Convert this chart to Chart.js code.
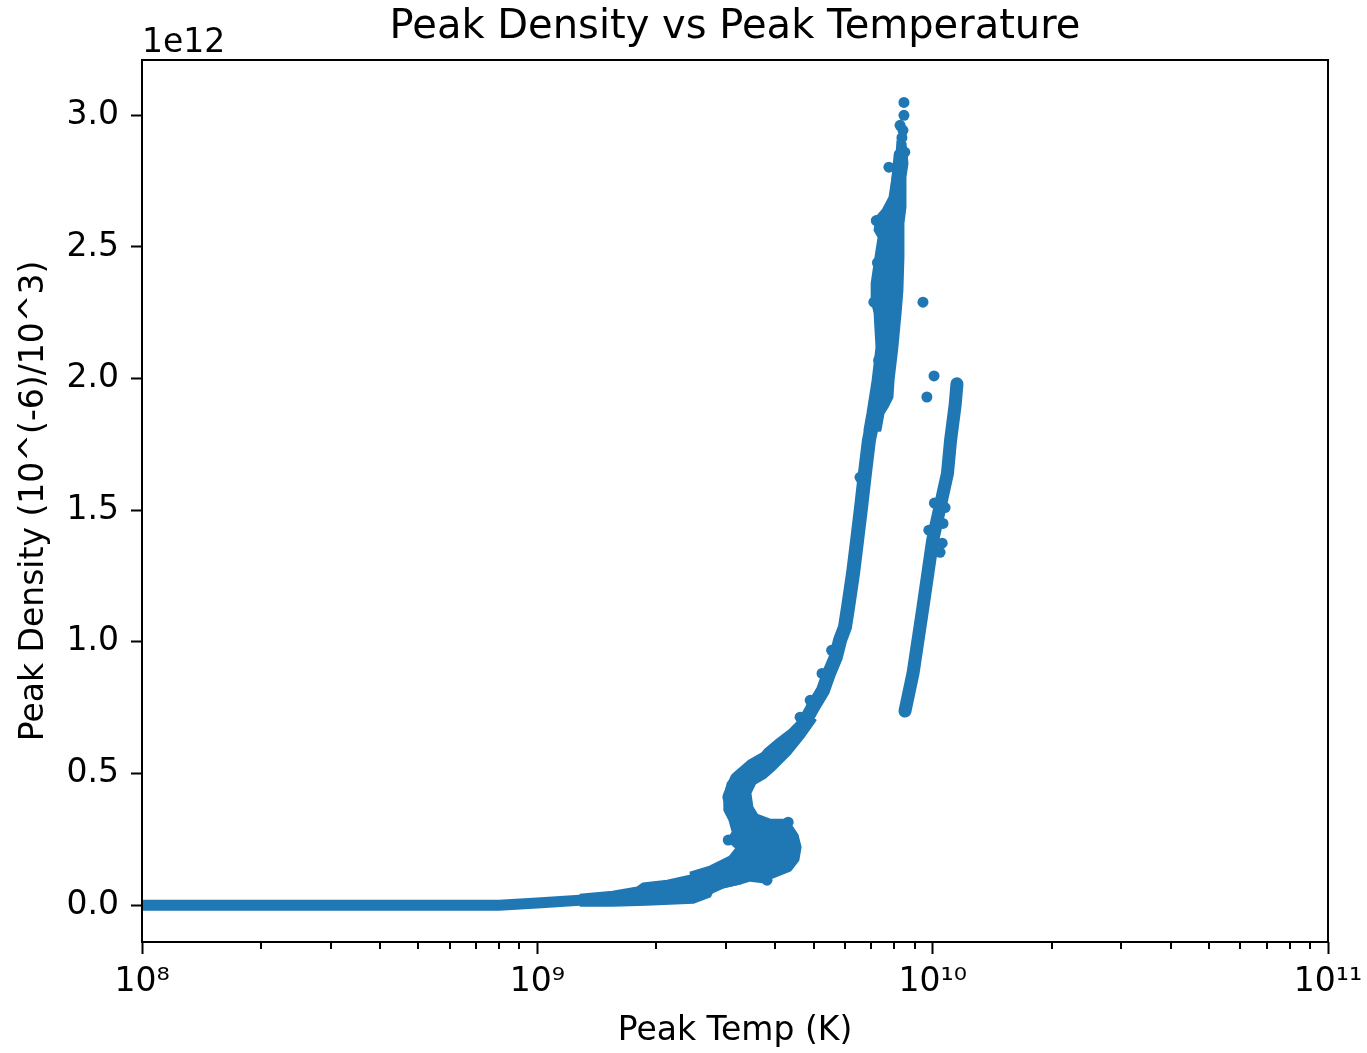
<!DOCTYPE html>
<html>
<head>
<meta charset="utf-8">
<title>Peak Density vs Peak Temperature</title>
<script src="https://cdn.jsdelivr.net/npm/chart.js@4/dist/chart.umd.min.js"></script>
<style>
  html, body { margin: 0; padding: 0; background: #fff; }
  canvas { display: block; }
</style>
</head>
<body>
<canvas id="peak-chart" width="1367" height="1053"></canvas>
<script>
// peak temperature (K) and peak density (units of 1e12)

// main track, in order along the curve
const mainTemp = [1.0e8, 2.0e8, 4.0e8, 6.0e8, 8.0e8, 1.0e9, 1.28e9, 1.55e9, 1.85e9, 2.13e9,
	2.43e9, 2.73e9, 3.0e9, 3.5e9, 4.0e9, 3.6e9, 3.2e9, 3.06e9, 3.2e9, 3.5e9,
	3.9e9, 4.2e9, 4.43e9, 4.73e9, 4.98e9, 5.28e9, 5.47e9, 5.69e9, 5.83e9, 6.0e9,
	6.11e9, 6.29e9, 6.44e9, 6.59e9, 6.74e9, 6.9e9, 7.2e9, 7.7e9, 8.0e9, 8.3e9];
const mainDens = [0.0, 0.0, 0.0, 0.0, 0.0, 0.008, 0.019, 0.025, 0.04, 0.05,
	0.065, 0.09, 0.13, 0.19, 0.22, 0.27, 0.33, 0.41, 0.48, 0.53,
	0.57, 0.6, 0.627, 0.691, 0.752, 0.816, 0.881, 0.942, 1.006, 1.056,
	1.132, 1.261, 1.386, 1.511, 1.64, 1.766, 1.9, 2.2, 2.6, 2.85];

// outlines of the densely packed parts of the main track
const lowerTemp = [1.28e9, 1.55e9, 1.79e9, 1.85e9, 2.13e9, 2.43e9, 2.78e9, 3.07e9,
	3.26e9, 2.78e9, 2.73e9, 2.48e9, 1.89e9, 1.55e9, 1.28e9];
const lowerDens = [0.038, 0.049, 0.065, 0.08, 0.091, 0.11, 0.137, 0.171,
	0.0835, 0.061, 0.034, 0.011, 0.0038, 0.0, 0.0];

const blobTemp = [2.43e9, 2.73e9, 3.07e9, 3.2e9, 3.04e9, 3.13e9, 3.07e9, 2.98e9, 2.98e9, 3.04e9,
	3.2e9, 3.41e9, 3.66e9, 3.77e9, 4.04e9, 4.36e9, 4.62e9, 5.04e9, 4.7e9, 4.36e9,
	3.95e9, 3.77e9, 3.55e9, 3.45e9, 3.49e9, 3.59e9, 3.88e9, 4.28e9, 4.54e9, 4.62e9,
	4.56e9, 4.36e9, 3.88e9, 3.81e9, 3.45e9, 3.26e9, 2.95e9, 2.73e9, 2.43e9];
const blobDens = [0.1215, 0.1443, 0.1823, 0.2165, 0.2468, 0.2772, 0.3228, 0.3608, 0.4101, 0.4633,
	0.5051, 0.5393, 0.562, 0.5886, 0.6266, 0.6646, 0.7025, 0.7025, 0.638, 0.5772,
	0.5127, 0.4861, 0.4633, 0.4253, 0.3722, 0.3418, 0.3228, 0.3228, 0.2658, 0.2203,
	0.1709, 0.1329, 0.1025, 0.0873, 0.0949, 0.0835, 0.0684, 0.0456, 0.019];

const upperTemp = [8.17e9, 8.51e9, 8.61e9, 8.51e9, 8.51e9, 8.41e9, 8.41e9, 8.36e9, 8.27e9, 8.12e9,
	7.94e9, 7.89e9, 7.66e9, 7.49e9, 7.36e9, 6.74e9, 6.86e9, 7.07e9, 7.23e9, 7.15e9,
	7.03e9, 7.03e9, 7.15e9, 7.23e9, 7.32e9, 7.15e9, 7.23e9, 7.49e9, 7.8e9, 7.94e9,
	8.12e9, 8.17e9];
const upperDens = [2.905, 2.894, 2.817, 2.765, 2.651, 2.59, 2.461, 2.335, 2.248, 2.119,
	1.994, 1.929, 1.891, 1.868, 1.804, 1.804, 1.868, 1.994, 2.119, 2.248,
	2.298, 2.362, 2.438, 2.487, 2.537, 2.563, 2.613, 2.639, 2.689, 2.765,
	2.841, 2.905];

// scattered points sticking out of the main track
const cloudTemp = [8.46e9, 8.46e9, 8.27e9, 8.41e9, 8.36e9, 8.5e9, 4.31e9, 5.55e9, 5.25e9, 4.9e9,
	4.62e9, 6.55e9, 3.81e9, 3.04e9, 7.2e9, 7.25e9, 7.1e9, 7.3e9];
const cloudDens = [3.049, 3.0, 2.962, 2.943, 2.915, 2.86, 0.315, 0.968, 0.88, 0.778,
	0.714, 1.625, 0.095, 0.247, 2.6, 2.44, 2.29, 2.07];

// second (hotter) branch
const branchTemp = [8.51e9, 8.92e9, 9.45e9, 1.0e10, 1.09e10, 1.11e10, 1.14e10, 1.152e10];
const branchDens = [0.737, 0.881, 1.132, 1.386, 1.64, 1.766, 1.9, 1.98];
const branchCloudTemp = [1.01e10, 1.075e10, 9.78e9, 1.062e10, 1.057e10, 1.044e10];
const branchCloudDens = [1.527, 1.51, 1.424, 1.45, 1.375, 1.34];

// isolated points
const strayTemp = [9.45e9, 1.008e10, 9.67e9, 7.75e9];
const strayDens = [2.29, 2.01, 1.93, 2.803];

const xDecades = [1e8, 1e9, 1e10, 1e11];
const xTickLabels = ['10⁸', '10⁹', '10¹⁰', '10¹¹'];
const yTickValues = [0, 0.5, 1.0, 1.5, 2.0, 2.5, 3.0];
const yOffsetLabel = '1e12';

const BLUE = '#1f77b4';
const FONT = 'DejaVu Sans';

const toPoints = (xs, ys) => xs.map((x, i) => ({ x, y: ys[i] }));

// every 1..9 x 10^n between the first and last decade
const xTickValues = [];
xDecades.forEach((d, i) => {
	if (i === xDecades.length - 1) {
		xTickValues.push(d);
		return;
	}
	for (let m = 1; m < 10; m++) {
		xTickValues.push(m * d);
	}
});
const isDecade = (v) => xDecades.some((d) => Math.abs(v / d - 1) < 1e-9);

const frame = {
	id: 'frame',
	afterDraw(chart) {
		const { ctx, chartArea } = chart;
		const xScale = chart.scales.x;
		ctx.save();
		ctx.strokeStyle = '#000';
		ctx.lineWidth = 2;
		ctx.strokeRect(chartArea.left, chartArea.top, chartArea.right - chartArea.left, chartArea.bottom - chartArea.top);

		// minor ticks on the log axis
		ctx.beginPath();
		xScale.ticks.forEach((t) => {
			if (isDecade(t.value)) {
				return;
			}
			const px = Math.round(xScale.getPixelForValue(t.value));
			ctx.moveTo(px, chartArea.bottom);
			ctx.lineTo(px, chartArea.bottom + 7);
		});
		ctx.stroke();

		ctx.fillStyle = '#000';
		ctx.font = `33px "${FONT}"`;
		ctx.textAlign = 'left';
		ctx.textBaseline = 'alphabetic';
		ctx.fillText(yOffsetLabel, chartArea.left, chartArea.top - 8);
		ctx.restore();
	},
};

const dots = {
	backgroundColor: BLUE,
	borderColor: BLUE,
	pointBackgroundColor: BLUE,
	pointBorderWidth: 0,
	pointRadius: 5.5,
	pointHoverRadius: 5.5,
};

const track = {
	...dots,
	showLine: true,
	pointRadius: 0,
	borderCapStyle: 'round',
	borderJoinStyle: 'round',
};

const patch = {
	type: 'line',
	backgroundColor: BLUE,
	borderColor: BLUE,
	borderWidth: 3,
	borderJoinStyle: 'round',
	pointRadius: 0,
	tension: 0,
	fill: 'shape',
};

new Chart(document.getElementById('peak-chart'), {
	type: 'scatter',
	data: {
		datasets: [
			{ data: toPoints(lowerTemp, lowerDens), ...patch },
			{ data: toPoints(blobTemp, blobDens), ...patch },
			{ data: toPoints(upperTemp, upperDens), ...patch },
			{
				data: toPoints(mainTemp, mainDens),
				...track,
				borderWidth: 14,
				// the cold, flat stretch is a little thinner
				segment: { borderWidth: (ctx) => (ctx.p0.parsed.x < 1.5e9 ? 11 : 14) },
			},
			{ data: toPoints(cloudTemp, cloudDens), ...dots },
			{ data: toPoints(branchTemp, branchDens), ...track, borderWidth: 13 },
			{ data: toPoints(branchCloudTemp, branchCloudDens), ...dots },
			{ data: toPoints(strayTemp, strayDens), ...dots },
		],
	},
	options: {
		responsive: false,
		animation: false,
		layout: {
			padding: { left: 0, right: 39, top: 0, bottom: 0 },
		},
		plugins: {
			legend: { display: false },
			tooltip: { enabled: false },
			title: {
				display: true,
				text: 'Peak Density vs Peak Temperature',
				fullSize: false,
				color: '#000',
				font: { family: FONT, size: 40, weight: 'normal', lineHeight: 1.2 },
				padding: { top: 4, bottom: 8 },
			},
		},
		scales: {
			x: {
				type: 'logarithmic',
				min: 1e8,
				max: 1e11,
				afterBuildTicks(scale) {
					scale.ticks = xTickValues.map((v) => ({ value: v }));
				},
				afterFit(scale) {
					scale.height = 111;
					scale.paddingLeft = 0;
					scale.paddingRight = 0;
				},
				border: { display: false },
				grid: {
					drawOnChartArea: false,
					drawTicks: true,
					tickLength: 12,
					tickWidth: 2,
					tickColor: (ctx) => (ctx.tick && isDecade(ctx.tick.value) ? '#000' : 'rgba(0,0,0,0)'),
				},
				ticks: {
					autoSkip: false,
					maxRotation: 0,
					padding: 9,
					color: '#000',
					font: { family: FONT, size: 33 },
					callback(value, index, ticks) {
						const i = xDecades.findIndex((d) => Math.abs(ticks[index].value / d - 1) < 1e-9);
						return i >= 0 ? xTickLabels[i] : '';
					},
				},
				title: {
					display: true,
					text: 'Peak Temp (K)',
					color: '#000',
					font: { family: FONT, size: 33, lineHeight: 1.2 },
					padding: { top: 0, bottom: 2 },
				},
			},
			y: {
				type: 'linear',
				min: -0.14,
				max: 3.21,
				afterBuildTicks(scale) {
					scale.ticks = yTickValues.map((v) => ({ value: v }));
				},
				afterFit(scale) {
					scale.width = 142;
				},
				border: { display: false },
				grid: {
					drawOnChartArea: false,
					drawTicks: true,
					tickLength: 11,
					tickWidth: 2,
					tickColor: '#000',
				},
				ticks: {
					padding: 12,
					color: '#000',
					font: { family: FONT, size: 33 },
					callback: (value) => Number(value).toFixed(1),
				},
				title: {
					display: true,
					text: 'Peak Density (10^(-6)/10^3)',
					color: '#000',
					font: { family: FONT, size: 33, lineHeight: 1.2 },
					padding: { top: 15, bottom: 0 },
				},
			},
		},
	},
	plugins: [frame],
});
</script>
</body>
</html>
